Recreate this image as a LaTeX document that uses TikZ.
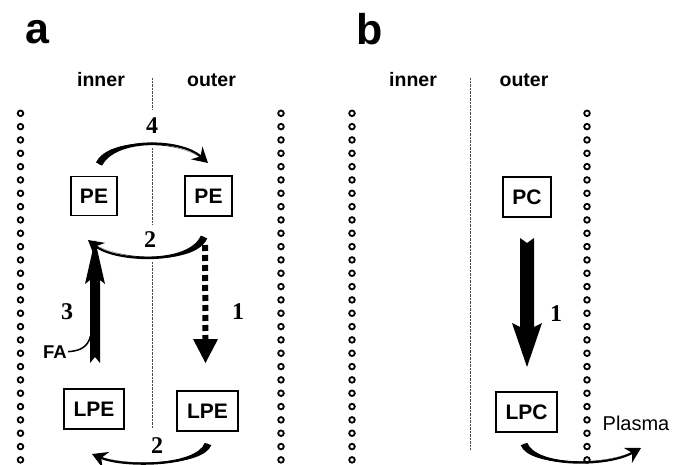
\documentclass[tikz,border=0pt]{standalone}
\usepackage{fontspec}
\setmainfont{Liberation Sans}
\newfontfamily\numfont{Liberation Serif}
\usetikzlibrary{arrows.meta,calc}

\tikzset{
 membdot/.style={draw=black,line width=1.8pt},
 divider/.style={line width=0.6pt, black!70, dash pattern=on 0.7pt off 0.7pt},
 molbox/.style={draw,line width=1.4pt,inner sep=0pt,font=\fontsize{21}{21}\selectfont\bfseries},
 numlab/.style={inner sep=1pt,font=\fontsize{24}{24}\selectfont\numfont\bfseries},
 sidelab/.style={anchor=base,inner sep=1pt,font=\fontsize{19.5}{19.5}\selectfont\bfseries},
 panellab/.style={anchor=base,inner sep=0pt,font=\fontsize{43}{43}\selectfont\bfseries},
 thinlab/.style={anchor=base,inner sep=1pt},
}

\newcommand\taperarrow[5]{%
 \fill ($(#1)+#5$) .. controls ($#2+#5$) and #3 .. (#4) .. controls #3 and ($#2-#5$) .. ($(#1)-#5$) -- cycle;
 \draw[line width=2.2pt,-{Stealth[length=15pt,width=17pt,inset=5pt]}] (#1) .. controls #2 and #3 .. (#4);
}

\begin{document}
\begin{tikzpicture}[x=1pt,y=-1pt]
\useasboundingbox[fill=white] (0,0) rectangle (680,465);

% membranes
\foreach \mx in {20.5,281,352,587}{
  \foreach \i in {0,...,26}{
    \draw[membdot] (\mx,113.3+\i*13.33) circle[radius=2.8pt];
  }
}

% dividers
\draw[divider] (152,78) -- (152,110);
\draw[divider] (152,148) -- (152,224);
\draw[divider] (152,262) -- (152,428);
\draw[divider] (470,78) -- (470,450);

% panel labels
\node[panellab] (la) at (37.5,43.5) {a};
\node[panellab] (lb) at (369.5,44.5) {b};
\node[sidelab] (inA) at (101,87) {inner};
\node[sidelab] (outA) at (211.5,87) {outer};
\node[sidelab] (inB) at (413,87) {inner};
\node[sidelab] (outB) at (524,87) {outer};

% boxes
\node[molbox,minimum width=46pt,minimum height=39pt] (peI) at (94,196) {PE};
\node[molbox,minimum width=47pt,minimum height=40pt] (peO) at (208.5,196) {PE};
\node[molbox,minimum width=60pt,minimum height=40pt] (lpeI) at (94,409) {LPE};
\node[molbox,minimum width=61pt,minimum height=40pt] (lpeO) at (207.5,411) {LPE};
\node[molbox,minimum width=48pt,minimum height=40pt] (pc) at (527,197) {PC};
\node[molbox,minimum width=61pt,minimum height=40pt] (lpc) at (526.5,412) {LPC};

% numbers
\node[numlab] (n4) at (152,126) {4};
\node[numlab] (n2t) at (150,240) {2};
\node[numlab] (n3) at (67,312) {3};
\node[numlab] (n1a) at (238,312) {1};
\node[numlab] (n2b) at (157,446) {2};
\node[numlab] (n1b) at (556,314) {1};

% other labels
\node[thinlab,font=\fontsize{18.5}{18.5}\selectfont\bfseries] (fa) at (55,358) {FA};
\node[thinlab,font=\fontsize{20}{20}\selectfont] (plasma) at (636,430) {Plasma};

% curved tapered arrows
\coordinate (s4) at (99,164);  \coordinate (t4) at (208,163);
\taperarrow{s4}{(112,138)}{(180,138)}{t4}{(3.1,1.6)}
\coordinate (s2t) at (204,237); \coordinate (t2t) at (88,240);
\taperarrow{s2t}{(192,265)}{(115,262)}{t2t}{(3.2,1.4)}
\coordinate (s2b) at (208,444); \coordinate (t2b) at (92,454);
\taperarrow{s2b}{(200,466)}{(125,468)}{t2b}{(3.3,1.1)}
\coordinate (sp) at (524,444); \coordinate (tp) at (641,448);
\taperarrow{sp}{(532,466)}{(605,468)}{tp}{(3.3,-1.2)}

% arrow 3 (FA incorporation)
\coordinate (a3tip) at (95,240);
\fill[shift={(a3tip)}] (0,0) -- (10,44) -- (5,40) -- (5,123) -- (0,117) -- (-5,123) -- (-5,40) -- (-10,44) -- cycle;
\draw[line width=1.5pt] (fa.east) .. controls (80,351) and (88,347) .. (90.5,336);

% dashed arrow 1 (panel a)
\coordinate (d1s) at (205,245); \coordinate (d1t) at (205.5,363);
\draw[line width=6pt, dash pattern=on 6pt off 4pt] (d1s) -- ($(d1t)+(0,-24)$);
\fill[shift={(d1t)}] (0,0) -- (-12.5,-24) -- (12.5,-24) -- cycle;

% arrow 1 (panel b)
\coordinate (b1tip) at (527,367);
\fill[shift={(b1tip)}] (0,0) -- (-15,-44) -- (-7,-40) -- (-7,-129) -- (0,-124) -- (7,-129) -- (7,-40) -- (15,-44) -- cycle;
\end{tikzpicture}
\end{document}
